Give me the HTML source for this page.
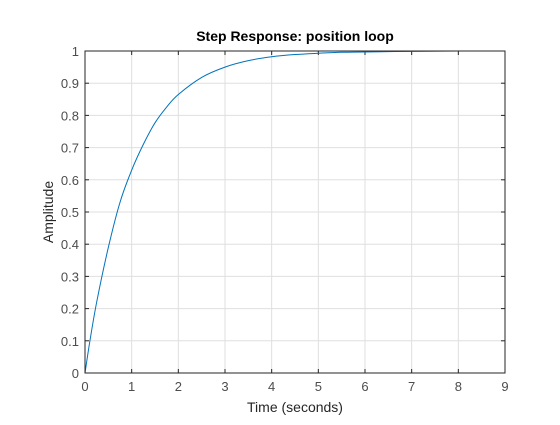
<!DOCTYPE html>
<html><head><meta charset="utf-8"><style>
body{margin:0;background:#fff;}
svg text{font-family:"Liberation Sans",sans-serif;}
</style></head><body>
<svg id="chart" width="560" height="420" xmlns="http://www.w3.org/2000/svg">
<rect width="560" height="420" fill="#fff"/>
<rect x="85" y="51" width="420" height="322" fill="#fff"/>
<g id="grid"></g>
<g id="ticks"></g>
<path id="curve" fill="none" stroke="#0072BD" stroke-width="1"/>
<line id="steady" stroke="#000" stroke-dasharray="1,2" stroke-width="1"/>
<rect x="85" y="51" width="420" height="322" fill="none" stroke="#262626" stroke-width="1"/>
<text x="295" y="41" text-anchor="middle" font-size="14" font-weight="bold" fill="#000">Step Response: position loop</text>
<text x="295" y="412" text-anchor="middle" font-size="14" fill="#262626">Time (seconds)</text>
<text transform="translate(53,212) rotate(-90)" text-anchor="middle" font-size="14" fill="#262626">Amplitude</text>
</svg>
<script>
const times=[0,0.1,0.25,0.5,0.75,1,1.25,1.5,1.75,2,2.5,3,3.5,4,4.5,5,5.5,6,7,8,9];
const amplitudes=[0,0.095,0.22,0.39,0.53,0.63,0.71,0.777,0.826,0.865,0.918,0.95,0.97,0.982,0.989,0.993,0.996,0.997,0.999,1,1];
const xTicks=[0,1,2,3,4,5,6,7,8,9];
const yTicks=[0,0.1,0.2,0.3,0.4,0.5,0.6,0.7,0.8,0.9,1];
const yTickLabels=["0","0.1","0.2","0.3","0.4","0.5","0.6","0.7","0.8","0.9","1"];
const steadyValue=1;
const X0=85,X1=505,Y0=373,Y1=51;
const sx=v=>X0+(v-0)/(9-0)*(X1-X0);
const sy=v=>Y0-(v-0)/(1-0)*(Y0-Y1);
const NS="http://www.w3.org/2000/svg";
const grid=document.getElementById('grid'),ticks=document.getElementById('ticks');
function mk(tag,attrs,parent){const e=document.createElementNS(NS,tag);for(const k in attrs)e.setAttribute(k,attrs[k]);parent.appendChild(e);return e;}
xTicks.forEach((t,i)=>{
 const x=sx(t);
 const g=mk('line',{x1:x,x2:x,y1:Y1,y2:Y0,stroke:'#dfdfdf','stroke-width':1},grid);
 
 
 mk('line',{x1:x,x2:x,y1:Y0,y2:Y0-4,stroke:'#262626'},ticks);
 mk('line',{x1:x,x2:x,y1:Y1,y2:Y1+4,stroke:'#262626'},ticks);
 const tx=mk('text',{x:x,y:Y0+18,'text-anchor':'middle','font-size':13,fill:'#4d4d4d'},ticks);
 tx.textContent=String(t);
 
 
});
yTicks.forEach((t,i)=>{
 const y=sy(t);
 const g=mk('line',{x1:X0,x2:X1,y1:y,y2:y,stroke:'#dfdfdf','stroke-width':1},grid);
 
 
 mk('line',{x1:X0,x2:X0+4,y1:y,y2:y,stroke:'#262626'},ticks);
 mk('line',{x1:X1,x2:X1-4,y1:y,y2:y,stroke:'#262626'},ticks);
 const tx=mk('text',{x:X0-6,y:y+5,'text-anchor':'end','font-size':13,fill:'#4d4d4d'},ticks);
 tx.textContent=yTickLabels[i];
 
 
});
// smooth monotone-ish Catmull-Rom path through data points
const P=times.map((t,i)=>[sx(t),sy(amplitudes[i])]);
let d='M'+P[0][0]+','+P[0][1];
for(let i=0;i<P.length-1;i++){
 const p0=P[Math.max(0,i-1)],p1=P[i],p2=P[i+1],p3=P[Math.min(P.length-1,i+2)];
 const c1=[p1[0]+(p2[0]-p0[0])/6,p1[1]+(p2[1]-p0[1])/6];
 const c2=[p2[0]-(p3[0]-p1[0])/6,p2[1]-(p3[1]-p1[1])/6];
 d+=' C'+c1[0]+','+c1[1]+' '+c2[0]+','+c2[1]+' '+p2[0]+','+p2[1];
}
document.getElementById('curve').setAttribute('d',d);
const st=document.getElementById('steady');
st.setAttribute('x1',X0);st.setAttribute('x2',X1);st.setAttribute('y1',sy(steadyValue));st.setAttribute('y2',sy(steadyValue));
</script>
</body></html>
